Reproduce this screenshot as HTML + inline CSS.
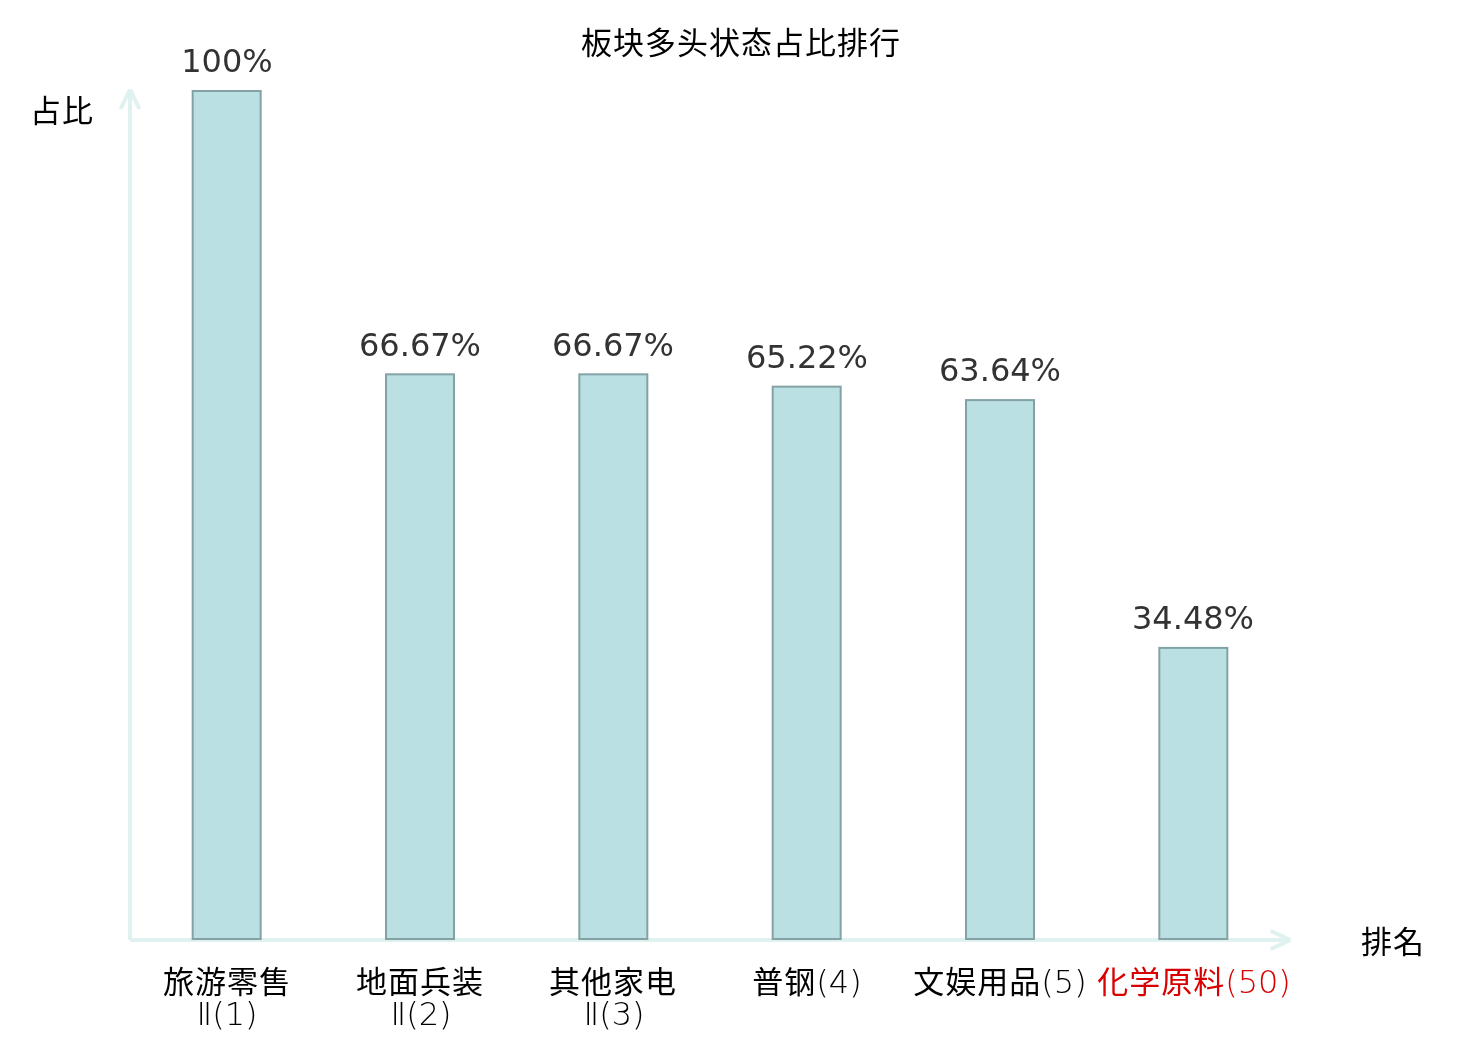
<!DOCTYPE html>
<html>
<head>
<meta charset="utf-8">
<title>板块多头状态占比排行</title>
<style>
html,body{margin:0;padding:0;background:#ffffff;}
body{width:1480px;height:1040px;position:relative;overflow:hidden;}
.t{position:absolute;white-space:nowrap;text-align:center;will-change:transform;}
.cjk{font-family:"Noto Sans CJK JP","Noto Sans CJK SC",sans-serif;color:#000;}
.title{left:440.5px;width:600px;top:17px;font-size:31px;letter-spacing:1px;line-height:48px;}
.yname{left:30px;top:85px;font-size:31px;letter-spacing:1px;line-height:48px;}
.xname{left:1361px;top:916px;font-size:31px;letter-spacing:1px;line-height:48px;}
.val{font-family:"DejaVu Sans",sans-serif;font-size:32px;line-height:40px;color:#333333;width:200px;}
.cat{font-family:"DejaVu Sans Light","DejaVu Sans","Noto Sans CJK JP",sans-serif;font-weight:200;font-size:32px;line-height:36px;color:#000;width:200px;}
.cat .h{font-family:"Noto Sans CJK JP","Noto Sans CJK SC",sans-serif;font-weight:400;font-size:31px;letter-spacing:1px;}
.l1{top:962px;}
.l2{top:996px;}
.red{color:#d80000;}
svg{position:absolute;left:0;top:0;}
</style>
</head>
<body>
<svg width="1480" height="1040" viewBox="0 0 1480 1040">
  <!-- axes -->
  <g stroke="#dff2f0" stroke-width="4" fill="none" stroke-linecap="butt">
    <line x1="130" y1="940" x2="130" y2="89.3"/>
    <line x1="129.7" y1="90.2" x2="120.55" y2="108.98"/>
    <line x1="130.3" y1="90.2" x2="139.45" y2="108.98"/>
    <line x1="130" y1="940" x2="1290.7" y2="940"/>
    <line x1="1289.8" y1="939.7" x2="1270.5" y2="930.8"/>
    <line x1="1289.8" y1="940.3" x2="1270.5" y2="949.2"/>
  </g>
  <!-- bars -->
  <g fill="#bae0e3" stroke="#84a2a5" stroke-width="2">
    <rect x="192.67" y="91" width="68" height="848"/>
    <rect x="386" y="374.33" width="68" height="564.67"/>
    <rect x="579.33" y="374.33" width="68" height="564.67"/>
    <rect x="772.67" y="386.65" width="68" height="552.35"/>
    <rect x="966" y="400.09" width="68" height="538.91"/>
    <rect x="1159.33" y="647.9" width="68" height="291.1"/>
  </g>
</svg>

<div class="t cjk title">板块多头状态占比排行</div>
<div class="t cjk yname">占比</div>
<div class="t cjk xname">排名</div>

<div class="t val" style="left:126.7px;top:41px">100%</div>
<div class="t val" style="left:320px;top:325px">66.67%</div>
<div class="t val" style="left:513.3px;top:325px">66.67%</div>
<div class="t val" style="left:706.7px;top:337px">65.22%</div>
<div class="t val" style="left:900px;top:350px">63.64%</div>
<div class="t val" style="left:1093.3px;top:598px">34.48%</div>

<div class="t cat l1" style="left:126.7px"><span class="h">旅游零售</span></div>
<div class="t cat l2" style="left:127.2px">Ⅱ(1)</div>
<div class="t cat l1" style="left:320px"><span class="h">地面兵装</span></div>
<div class="t cat l2" style="left:320.5px">Ⅱ(2)</div>
<div class="t cat l1" style="left:513.3px"><span class="h">其他家电</span></div>
<div class="t cat l2" style="left:513.8px">Ⅱ(3)</div>
<div class="t cat l1" style="left:706.7px"><span class="h">普钢</span>(4)</div>
<div class="t cat l1" style="left:900px"><span class="h">文娱用品</span>(5)</div>
<div class="t cat l1 red" style="left:1094.3px"><span class="h">化学原料</span>(50)</div>
</body>
</html>
